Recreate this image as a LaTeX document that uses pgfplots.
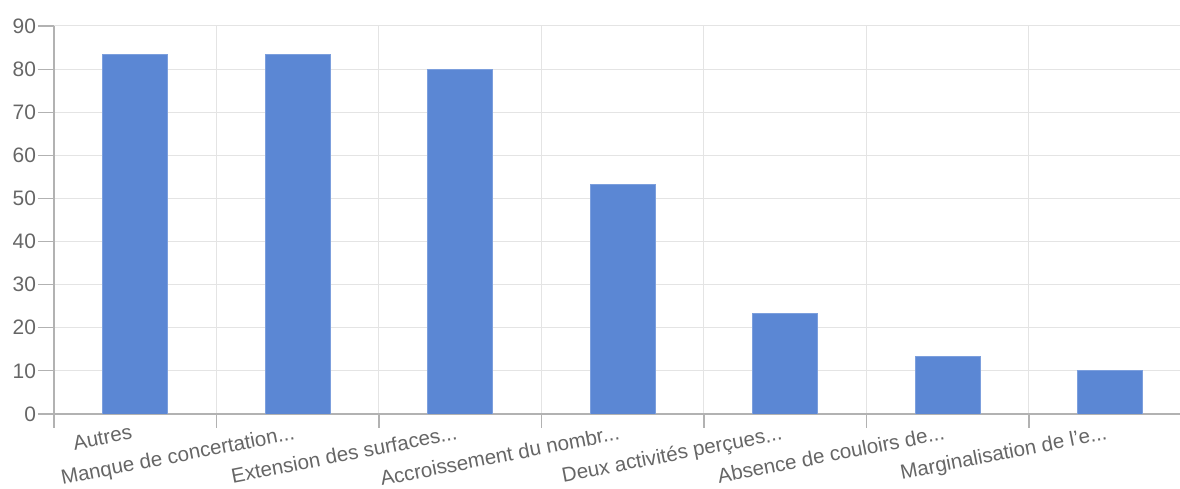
\documentclass[border=0pt]{standalone}
\usepackage{pgfplots}
\pgfplotsset{compat=1.18}
\usepackage{fontspec}
\setmainfont{Liberation Sans}
\definecolor{barblue}{RGB}{91,135,212}
\definecolor{axisgray}{RGB}{178,178,178}
\definecolor{gridgray}{RGB}{228,228,228}
\definecolor{labelgray}{RGB}{102,102,102}
% truncated category names end with three periods
\newcommand*\etc{.{}.{}.}
\begin{document}
\begin{tikzpicture}
\begin{axis}[
  name=ax,
  scale only axis,
  width=563bp, height=194bp,
  xmin=-0.5, xmax=6.43,
  ymin=0, ymax=90,
  ytick={0,10,...,90},
  xtick={0,...,6},
  xticklabels={Autres,Manque de concertation\etc,Extension des surfaces\etc,Accroissement du nombr\etc,Deux activités perçues\etc,Absence de couloirs de\etc,Marginalisation de l'e\etc},
  minor xtick={-0.5,0.5,...,6.5},
  xminorgrids, ymajorgrids,
  grid style={draw=gridgray, line width=0.5bp},
  minor grid style={draw=gridgray, line width=0.5bp},
  axis x line*=bottom, axis y line*=left,
  axis line style={draw=axisgray, line width=0.7bp},
  tick align=outside,
  major x tick style={draw=none},
  minor x tick style={draw=axisgray, line width=0.6bp},
  minor tick length=7bp,
  major tick length=8bp,
  y tick style={draw=axisgray, line width=0.6bp},
  /pgf/number format/assume math mode=true,
  yticklabel style={font=\fontsize{10.5}{12}\selectfont, text=labelgray, xshift=2.5bp},
  xticklabel style={font=\fontsize{10.3}{12}\selectfont, text=labelgray, rotate=11, anchor=north east, yshift=6.5bp, xshift=1.5bp},
  ybar, bar width=32.5bp,
]
\addplot[fill=barblue, draw=barblue!80!white] coordinates {(0,83.33) (1,83.33) (2,80) (3,53.33) (4,23.33) (5,13.33) (6,10)};
\end{axis}
\pgfresetboundingbox
\path ([xshift=-27bp,yshift=-37.5bp]ax.south west) rectangle ([yshift=13bp]ax.north east);
\end{tikzpicture}
\end{document}
